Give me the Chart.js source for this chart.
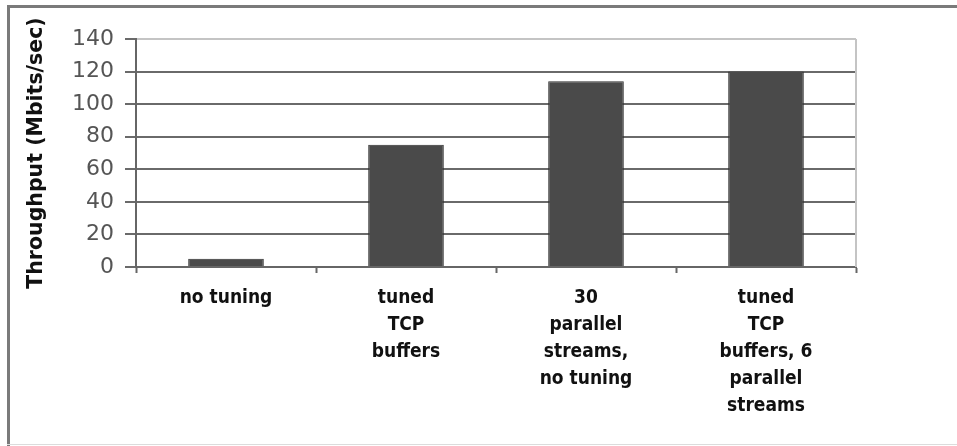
<!DOCTYPE html>
<html>
<head>
<meta charset="utf-8">
<script src="https://cdn.jsdelivr.net/npm/chart.js@4/dist/chart.umd.min.js"></script>
<style>
  html, body { margin: 0; padding: 0; background: #fff; }
  #wrap { width: 957px; height: 446px; }
</style>
</head>
<body>
<div id="wrap"><canvas id="chart" width="957" height="446"></canvas></div>
<script>
// Throughput for each tuning configuration
const categories = [
  ["no tuning"],
  ["tuned", "TCP", "buffers"],
  ["30", "parallel", "streams,", "no tuning"],
  ["tuned", "TCP", "buffers, 6", "parallel", "streams"]
];
const throughput = [5, 75, 114, 120];
const yTicks = [0, 20, 40, 60, 80, 100, 120, 140];
const yTitle = "Throughput (Mbits/sec)";

// Outer frame plus the light right edge of the plot area
const framePlugin = {
  id: "frame",
  beforeDraw(chart) {
    const ctx = chart.ctx;
    ctx.save();
    ctx.fillStyle = "#fff";
    ctx.fillRect(0, 0, chart.width, chart.height);
    ctx.fillStyle = "#7a7a7a";
    ctx.fillRect(7, 5, 3, chart.height - 5);
    ctx.fillRect(7, 5, chart.width - 7, 3);
    ctx.fillStyle = "#dcdcdc";
    ctx.fillRect(7, chart.height - 2, chart.width - 7, 1);
    ctx.restore();
  },
  afterDatasetsDraw(chart) {
    const a = chart.chartArea;
    const ctx = chart.ctx;
    ctx.save();
    ctx.strokeStyle = "#c4c4c4";
    ctx.lineWidth = 2;
    ctx.beginPath();
    ctx.moveTo(a.right, a.top);
    ctx.lineTo(a.right, a.bottom);
    ctx.stroke();
    ctx.restore();
  }
};

new Chart(document.getElementById("chart"), {
  type: "bar",
  data: {
    labels: categories,
    datasets: [{
      data: throughput,
      backgroundColor: "#4a4a4a",
      borderColor: "#2e2e2e",
      borderWidth: 1,
      barPercentage: 0.42,
      categoryPercentage: 1
    }]
  },
  options: {
    responsive: false,
    animation: false,
    layout: { padding: { left: 0, top: 39, right: 101, bottom: 0 } },
    plugins: {
      legend: { display: false },
      tooltip: { enabled: false }
    },
    scales: {
      x: {
        afterFit(scale) { scale.height = 179; },
        grid: {
          offset: true,
          drawOnChartArea: false,
          drawTicks: true,
          tickLength: 6,
          tickColor: "#666",
          tickWidth: 2
        },
        border: { color: "#666", width: 2 },
        ticks: {
          autoSkip: false,
          maxRotation: 0,
          padding: 12,
          color: "#111",
          font: {
            family: '"Liberation Sans Narrow", "DejaVu Sans Condensed", sans-serif',
            weight: "bold",
            size: 19,
            lineHeight: "27px"
          }
        }
      },
      y: {
        min: 0,
        max: 140,
        afterFit(scale) { scale.width = 136; },
        afterBuildTicks(scale) { scale.ticks = yTicks.map(v => ({ value: v })); },
        grid: {
          color: ctx => (ctx.tick && ctx.tick.value === 140 ? "#c4c4c4" : "#6a6a6a"),
          lineWidth: 2,
          tickLength: 11,
          tickColor: "#6a6a6a",
          tickWidth: 2
        },
        border: { color: "#666", width: 2 },
        ticks: {
          padding: 11,
          color: "#555",
          font: { family: '"DejaVu Sans", sans-serif', size: 22 }
        },
        title: {
          display: true,
          text: yTitle,
          color: "#111",
          padding: { top: 24, bottom: 0 },
          font: { family: '"DejaVu Sans", sans-serif', weight: "bold", size: 20.5 }
        }
      }
    }
  },
  plugins: [framePlugin]
});
</script>
</body>
</html>
